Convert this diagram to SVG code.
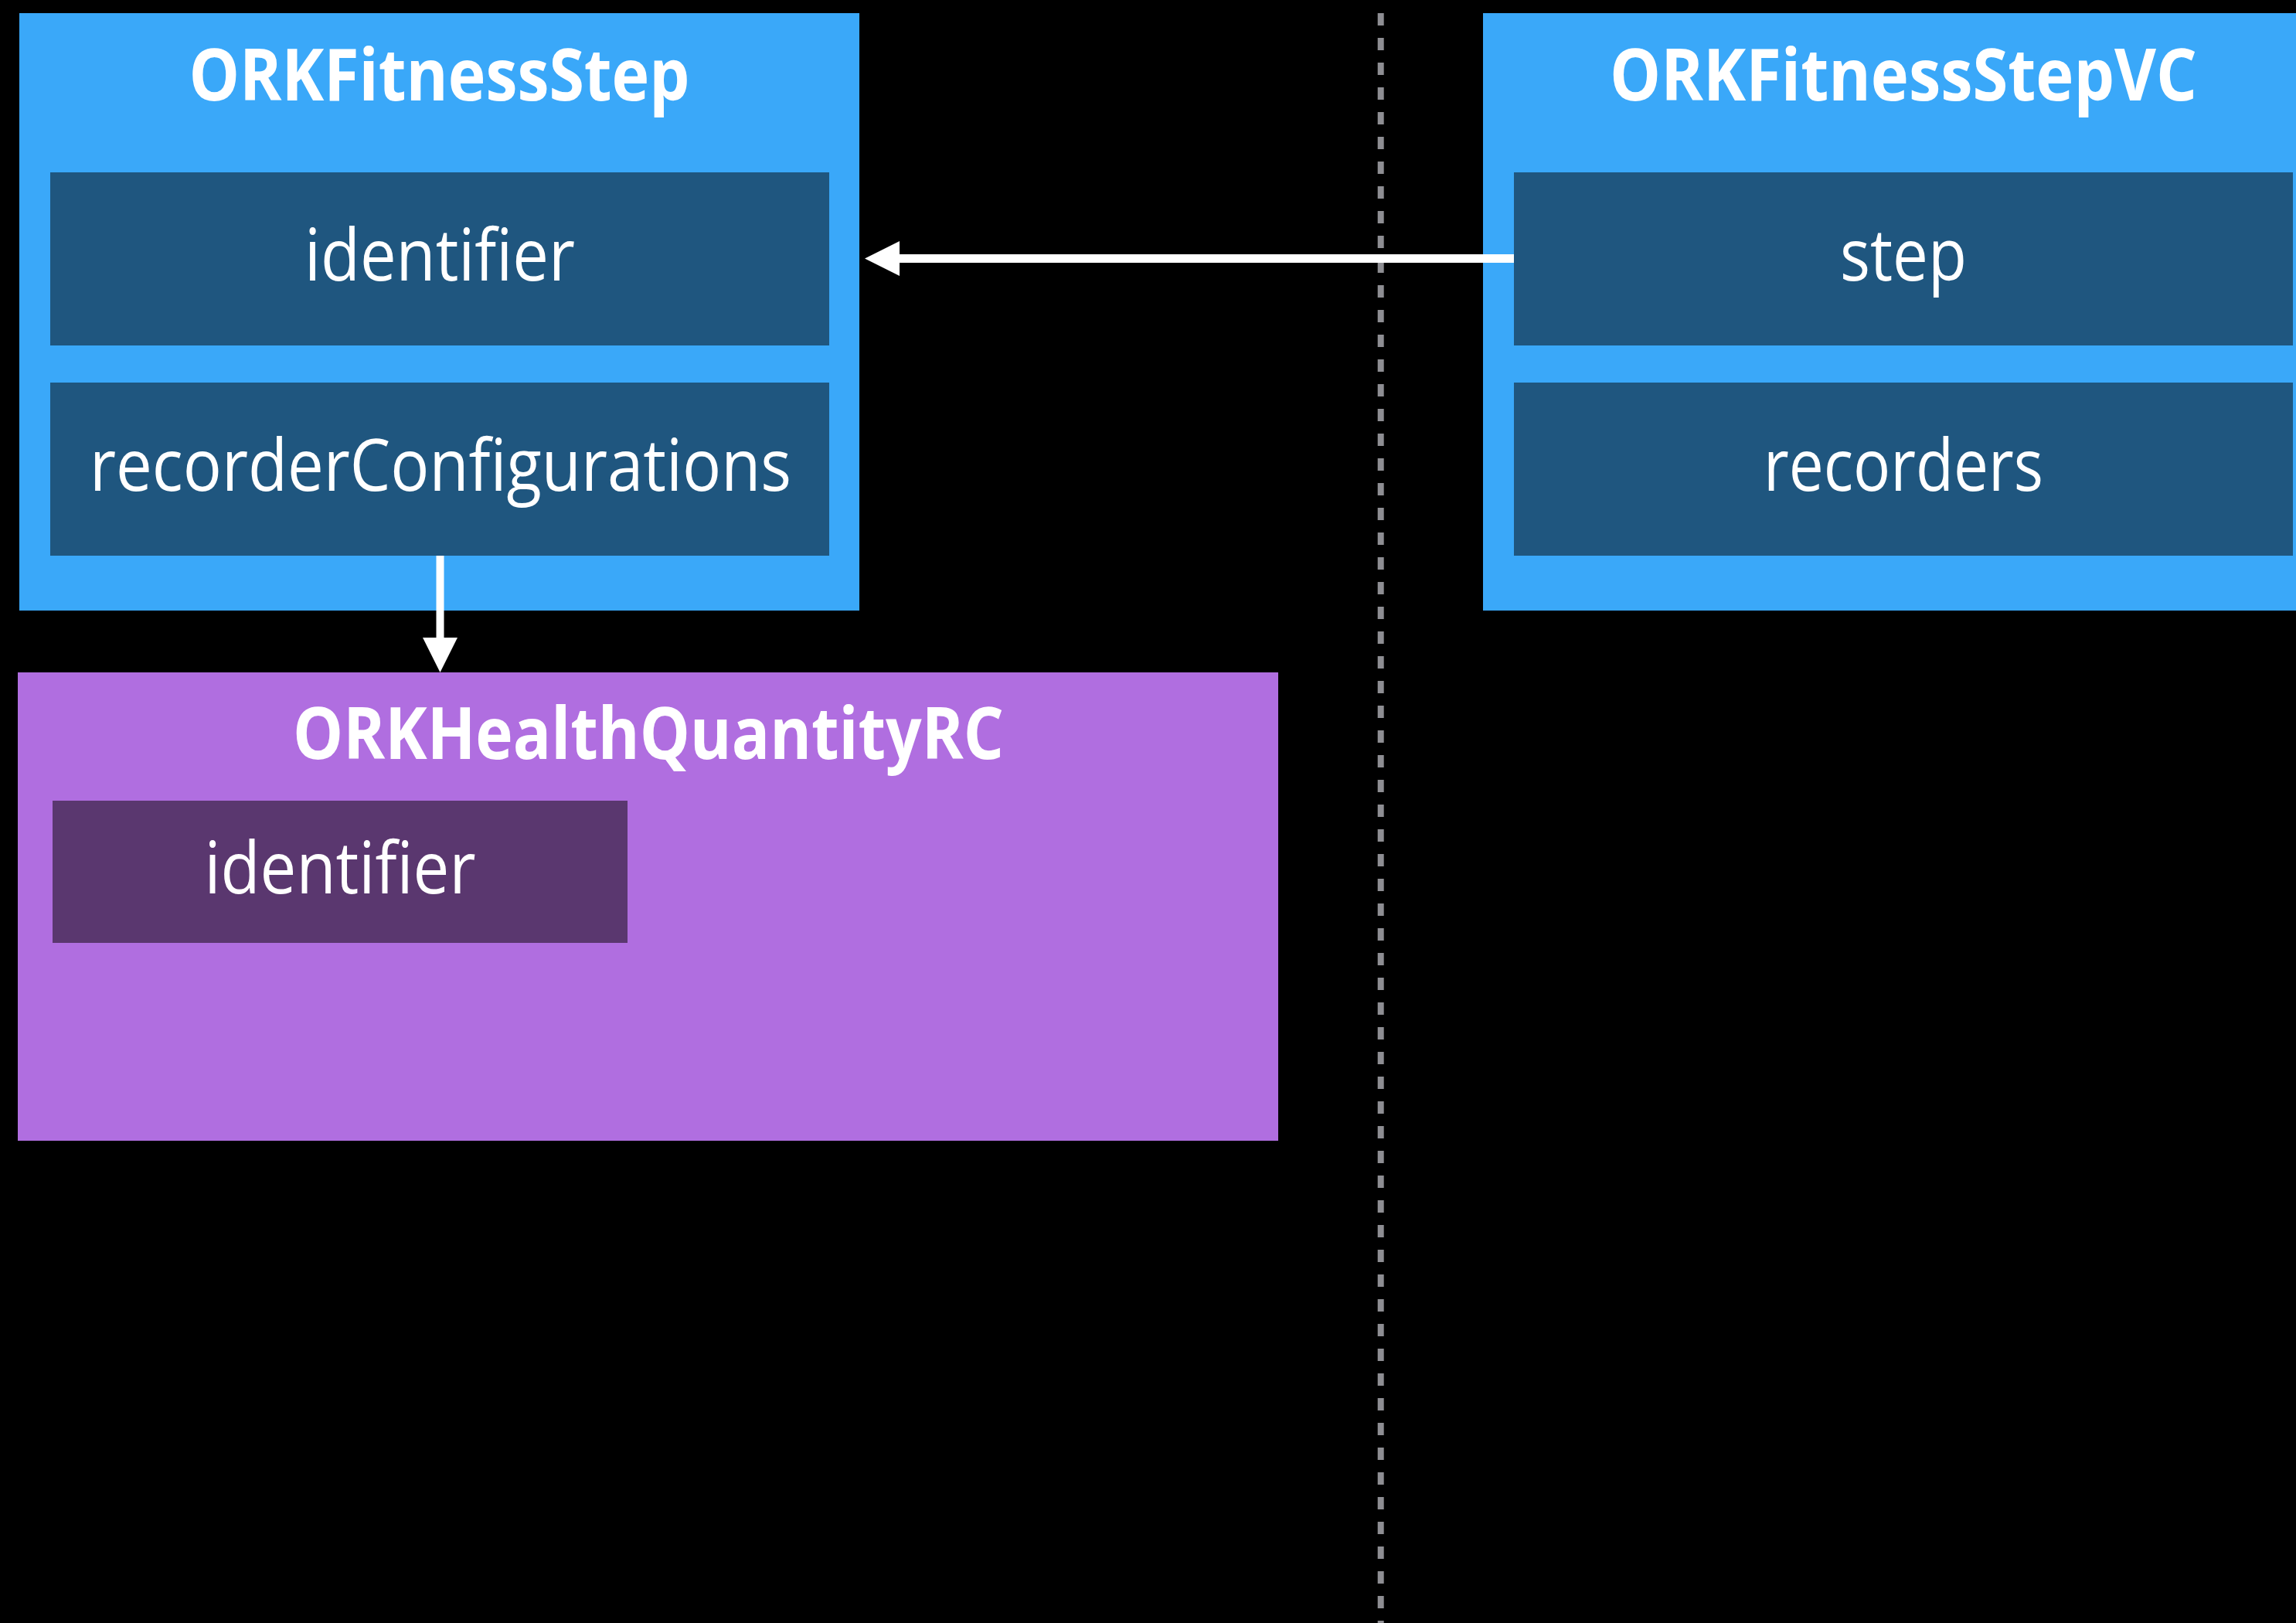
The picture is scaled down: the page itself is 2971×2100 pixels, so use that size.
<svg xmlns="http://www.w3.org/2000/svg" width="2971" height="2100" viewBox="0 0 2971 2100">
<style>
.outer{fill:#3aa8f9}
.inner{fill:#1f567f}
.pouter{fill:#b06ee0}
.pinner{fill:#5a376f}
.title{font-family:"Open Sans","Liberation Sans",sans-serif;font-weight:700;font-size:93px;fill:#ffffff;text-anchor:middle}
.field{font-family:"Open Sans","Liberation Sans",sans-serif;font-weight:400;font-size:94px;fill:#ffffff;text-anchor:middle}
.conn{stroke:#ffffff;fill:none}
.head{fill:#ffffff}
</style>
<rect width="2971" height="2100" fill="#000000"/>
<line x1="1786.7" y1="17" x2="1786.7" y2="2100" stroke="#8e8e93" stroke-width="8" stroke-dasharray="16 16"/>
<g id="ORKFitnessStep">
<rect class="outer" x="25" y="17" width="1087" height="773"/>
<text class="title" x="568.5" y="130" textLength="648" lengthAdjust="spacingAndGlyphs">ORKFitnessStep</text>
<g id="ORKFitnessStep-identifier">
<rect class="inner" x="65" y="223" width="1008" height="224"/>
<text class="field" x="569" y="363" textLength="350" lengthAdjust="spacingAndGlyphs">identifier</text>
</g>
<g id="ORKFitnessStep-recorderConfigurations">
<rect class="inner" x="65" y="495" width="1008" height="224"/>
<text class="field" x="570" y="635" textLength="908" lengthAdjust="spacingAndGlyphs">recorderConfigurations</text>
</g>
</g>
<g id="ORKFitnessStepVC">
<rect class="outer" x="1919" y="17" width="1087" height="773"/>
<text class="title" x="2463" y="130" textLength="760" lengthAdjust="spacingAndGlyphs">ORKFitnessStepVC</text>
<g id="ORKFitnessStepVC-step">
<rect class="inner" x="1959" y="223" width="1008" height="224"/>
<text class="field" x="2463" y="363" textLength="164" lengthAdjust="spacingAndGlyphs">step</text>
</g>
<g id="ORKFitnessStepVC-recorders">
<rect class="inner" x="1959" y="495" width="1008" height="224"/>
<text class="field" x="2463" y="635" textLength="362" lengthAdjust="spacingAndGlyphs">recorders</text>
</g>
</g>
<g id="ORKHealthQuantityRC">
<rect class="pouter" x="23" y="870" width="1631" height="606"/>
<text class="title" x="839" y="982" textLength="920" lengthAdjust="spacingAndGlyphs">ORKHealthQuantityRC</text>
<g id="ORKHealthQuantityRC-identifier">
<rect class="pinner" x="68" y="1036" width="744" height="184"/>
<text class="field" x="440" y="1156" textLength="351" lengthAdjust="spacingAndGlyphs">identifier</text>
</g>
</g>
<g id="connectors">
<line class="conn" x1="1959" y1="334.5" x2="1162" y2="334.5" stroke-width="11"/>
<polygon class="head" points="1119,334.5 1164,312 1164,357"/>
<line class="conn" x1="569.5" y1="719" x2="569.5" y2="827" stroke-width="10"/>
<polygon class="head" points="547,825 592,825 569.5,870"/>
</g>
</svg>
